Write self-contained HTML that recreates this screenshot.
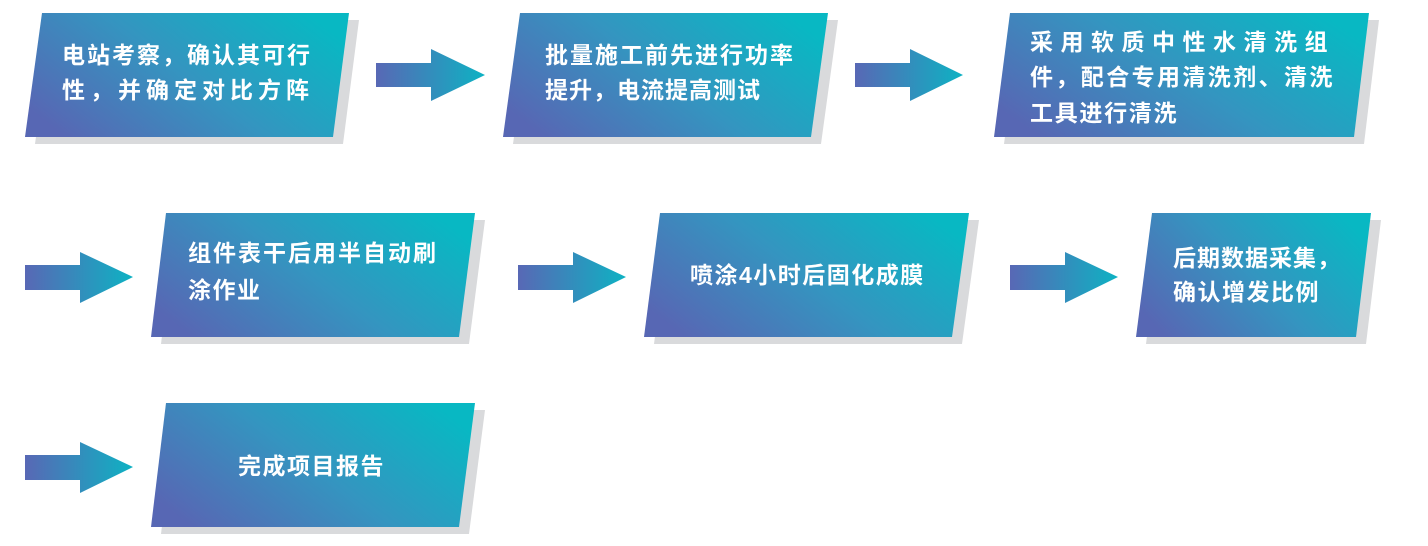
<!DOCTYPE html>
<html><head><meta charset="utf-8"><style>
body{margin:0;width:1428px;height:546px;background:#fff;position:relative;overflow:hidden}
svg{position:absolute;left:0;top:0}
.t{position:absolute;color:#fff;font:bold 23px "Liberation Sans","Noto Sans CJK SC",sans-serif;white-space:nowrap;line-height:26px;letter-spacing:1.5px}
</style></head><body>
<svg width="1428" height="546">
<defs>
<linearGradient id="g" x1="0" y1="0.75" x2="1" y2="0.25"><stop offset="0" stop-color="#5767b4"/><stop offset="0.5" stop-color="#3495c0"/><stop offset="1" stop-color="#08b8c3"/></linearGradient>
<linearGradient id="a" x1="0" y1="0" x2="1" y2="0"><stop offset="0" stop-color="#5868b5"/><stop offset="1" stop-color="#0eb2c3"/></linearGradient>
</defs>
<g fill="#d9dadc">
<polygon points="52,20 359,20 343,144 35,144"/>
<polygon points="530,20 838,20 821,144 513,144"/>
<polygon points="1020,20 1379,20 1364,144 1004,144"/>
<polygon points="176,220 485,220 469,344 161,344"/>
<polygon points="670,220 979,220 962,344 654,344"/>
<polygon points="1162,220 1381,220 1366,344 1146,344"/>
<polygon points="176,410 485,410 469,534 161,534"/>
</g>
<g fill="url(#g)">
<polygon points="42,13 349,13 333,137 25,137"/>
<polygon points="520,13 828,13 811,137 503,137"/>
<polygon points="1010,13 1369,13 1354,137 994,137"/>
<polygon points="166,213 475,213 459,337 151,337"/>
<polygon points="660,213 969,213 952,337 644,337"/>
<polygon points="1152,213 1371,213 1356,337 1136,337"/>
<polygon points="166,403 475,403 459,527 151,527"/>
</g>
<g fill="url(#a)">
<polygon points="376,63 431,63 431,49 485,75 431,101 431,87 376,87" />
<polygon points="855,63 910,63 910,49 963,75 910,101 910,87 855,87" />
<polygon points="25,265 80,265 80,252 133,277 80,303 80,290 25,290" />
<polygon points="518,265 573,265 573,252 626,277 573,303 573,290 518,290" />
<polygon points="1010,265 1065,265 1065,252 1118,277 1065,303 1065,290 1010,290" />
<polygon points="25,455 80,455 80,442 133,467 80,493 80,480 25,480" />
</g>
</svg>
<div class="t" style="left:62px;top:42px;letter-spacing:2px">电站考察，确认其可行</div>
<div class="t" style="left:62px;top:77px;letter-spacing:5px">性，并确定对比方阵</div>
<div class="t" style="left:545px;top:42px;letter-spacing:2px">批量施工前先进行功率</div>
<div class="t" style="left:545px;top:77px;letter-spacing:1px">提升，电流提高测试</div>
<div class="t" style="left:1030px;top:29px;letter-spacing:7.5px">采用软质中性水清洗组</div>
<div class="t" style="left:1030px;top:64px;letter-spacing:2.4px">件，配合专用清洗剂、清洗</div>
<div class="t" style="left:1030px;top:100px;letter-spacing:1.7px">工具进行清洗</div>
<div class="t" style="left:188px;top:240px;letter-spacing:2px">组件表干后用半自动刷</div>
<div class="t" style="left:188px;top:277px">涂作业</div>
<div class="t" style="left:690px;top:262px;letter-spacing:1.5px">喷涂4小时后固化成膜</div>
<div class="t" style="left:1173px;top:245px;letter-spacing:1px">后期数据采集，</div>
<div class="t" style="left:1173px;top:279px">确认增发比例</div>
<div class="t" style="left:238px;top:453px">完成项目报告</div>
</body></html>
